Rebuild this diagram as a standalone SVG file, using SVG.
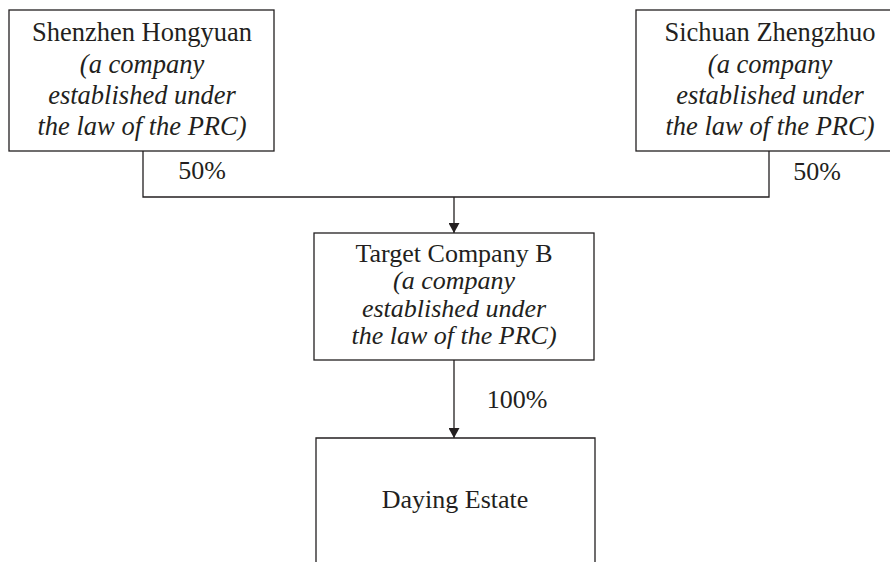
<svg xmlns="http://www.w3.org/2000/svg" width="890" height="562" viewBox="0 0 890 562">
<defs>
<style>
.box{fill:#fff;stroke:#231f20;stroke-width:1.3}
.t{font-family:"Liberation Serif","Times New Roman",serif;font-size:26px;fill:#231f20;text-anchor:middle}
.top{font-size:26.5px}
.i{font-style:italic}
.c{fill:none;stroke:#231f20;stroke-width:1.3}
</style>
<marker id="ah" markerWidth="10" markerHeight="11" refX="10" refY="5.5" orient="auto" markerUnits="userSpaceOnUse">
<path d="M0,0 L10,5.5 L0,11 Z" fill="#231f20"/>
</marker>
</defs>
<rect width="890" height="562" fill="#fff"/>
<g id="connectors">
<path class="c" d="M143,151 V197 H769 V151"/>
<path class="c" d="M454,197 V233" marker-end="url(#ah)"/>
<path class="c" d="M454,360 V438" marker-end="url(#ah)"/>
<text class="t" x="202" y="179">50%</text>
<text class="t" x="817" y="180">50%</text>
<text class="t" x="517" y="408">100%</text>
</g>
<g id="shenzhen">
<rect class="box" x="9" y="10" width="265" height="141"/>
<text class="t top" x="142" y="41">Shenzhen Hongyuan</text>
<text class="t top i" x="142" y="73">(a company</text>
<text class="t top i" x="142" y="104">established under</text>
<text class="t top i" x="142" y="135">the law of the PRC)</text>
</g>
<g id="sichuan">
<rect class="box" x="636" y="10" width="270" height="141"/>
<text class="t top" x="770" y="41">Sichuan Zhengzhuo</text>
<text class="t top i" x="770" y="73">(a company</text>
<text class="t top i" x="770" y="104">established under</text>
<text class="t top i" x="770" y="135">the law of the PRC)</text>
</g>
<g id="target">
<rect class="box" x="314" y="233" width="280" height="127"/>
<text class="t" x="454" y="262">Target Company B</text>
<text class="t i" x="454" y="289">(a company</text>
<text class="t i" x="454" y="317">established under</text>
<text class="t i" x="454" y="344">the law of the PRC)</text>
</g>
<g id="daying">
<path class="c" d="M316,570 V438 H595 V570"/>
<text class="t" x="455" y="508">Daying Estate</text>
</g>
</svg>
